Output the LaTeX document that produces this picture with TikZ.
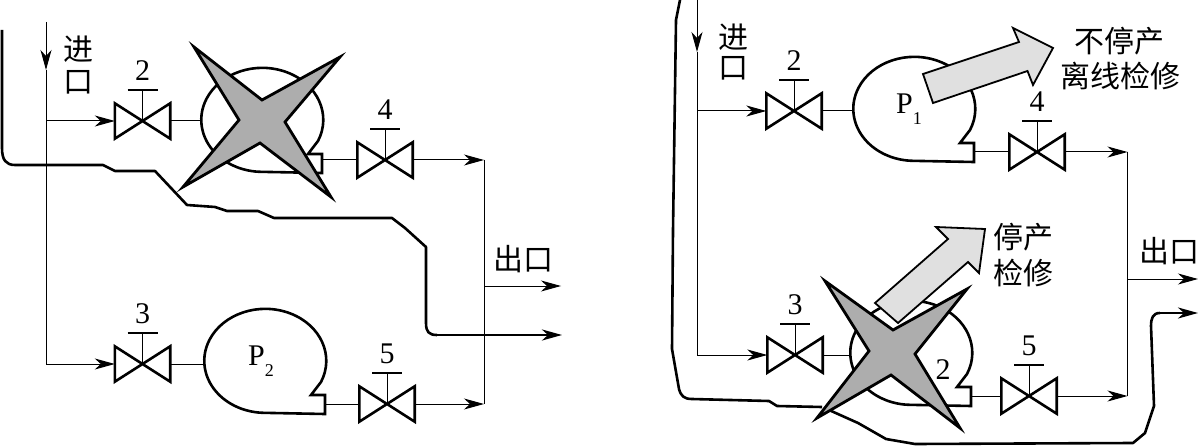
\documentclass[tikz,border=0pt]{standalone}
\usepackage{fontspec}
\setmainfont{Liberation Serif}
\newfontfamily\cjk{Noto Sans CJK SC}
\usetikzlibrary{arrows.meta}

\tikzset{
  pipe/.style={line width=1pt},
  flowtip/.style={-{Stealth[length=20pt,width=11pt,inset=6pt]}},
  bypass/.style={line width=2.6pt, line join=round},
  valve/.style={minimum width=55pt, minimum height=35pt, inner sep=0pt},
  valveline/.style={line width=2.6pt, line join=miter},
  pumpline/.style={line width=2.6pt, line join=miter},
  crossmark/.style={line width=2.8pt, fill=black!32, line join=miter},
  bigarrow/.style={line width=1.8pt, fill=black!12, line join=miter},
  numlabel/.style={font=\fontsize{30}{30}\selectfont, inner sep=0pt},
  cjklabel/.style={font=\cjk\fontsize{30}{30}\selectfont, inner sep=0pt}
}

\newcommand{\pumpname}[1]{P\raisebox{-0.35em}{\fontsize{18}{18}\selectfont #1}}

\begin{document}
\begin{tikzpicture}[x=1pt, y=1pt, yscale=-1]
  \useasboundingbox (0,0) rectangle (1198,446);

  % Valves of both figures
  \foreach \i/\lab/\px/\py in {A2/2/142.5/121, A3/3/142.5/364, A4/4/385/160, A5/5/387/404,
                               B2/2/794/111, B3/3/795/355, B4/4/1037/152, B5/5/1029/396} {
    \node[valve] (valve\i) at (\px,\py) {};
    \draw[valveline] (valve\i.south west) -- (valve\i.north east)
      -- (valve\i.south east) -- (valve\i.north west) -- cycle;
    \draw[pipe] (valve\i.center) -- ++(0,-31) coordinate (stem\i);
    \draw[line width=2.8pt] (stem\i) ++(-15,0) -- ++(30,0);
    \node[numlabel] (num\i) at (\px,\py-50) {\lab};
  }

  % Pump casings
  \foreach \i/\px/\py in {A1/264/120, A2/267/361, B1/916/109, B2/913/353} {
    \begin{scope}[shift={(\px,\py)}]
      \draw[pumpline] (58,53) -- (58,34) -- (44,34) -- (54,21)
        arc [start angle=24, end angle=-270, x radius=61, y radius=52] -- cycle;
      \coordinate (pump\i in) at (-63,0);
      \coordinate (pump\i out) at (58,40);
    \end{scope}
  }

  % Left figure
  \begin{scope}
    \coordinate (inletA) at (46,22);
    \coordinate (inletAmark) at (46,70);
    \coordinate (outletA) at (484,286);
    \coordinate (outletAend) at (561,286);

    \draw[pipe, flowtip] (inletA) -- (inletAmark);
    \draw[pipe] (inletAmark) -- (inletAmark |- valveA3);
    \draw[pipe, flowtip] (inletA |- valveA2) -- (valveA2.west);
    \draw[pipe, flowtip] (inletA |- valveA3) -- (valveA3.west);
    \draw[pipe] (valveA2.east) -- (valveA2.east -| pumpA1in);
    \draw[pipe] (valveA3.east) -- (valveA3.east -| pumpA2in);
    \draw[pipe] (valveA4.west) -- (valveA4.west -| pumpA1out);
    \draw[pipe] (valveA5.west) -- (valveA5.west -| pumpA2out);
    \draw[pipe, flowtip] (valveA4.east) -- (valveA4.east -| outletA);
    \draw[pipe, flowtip] (valveA5.east) -- (valveA5.east -| outletA);
    \draw[pipe] (valveA4.east -| outletA) -- (valveA5.east -| outletA);
    \draw[pipe, flowtip] (outletA) -- (outletAend);

    \draw[bypass] (2,30) -- (2,148) .. controls (2,160) and (6,165) .. (15,165)
      -- (103,165) -- (115,171) -- (155,171) -- (187,205) -- (215,207) -- (227,211)
      -- (258,211) -- (274,218) -- (392,218) -- (405,228) -- (426,247) -- (426,323)
      .. controls (426,332) and (429,335) .. (437,335);
    \draw[bypass, flowtip] (437,335) -- (562,335);

    \draw[crossmark] (194,47) -- (262,100) -- (340,57) -- (285,122)
      -- (331,197) -- (260,143) -- (183,187) -- (239,120) -- cycle;

    \node[numlabel] (nameA2) at (261,361) {\pumpname{2}};
    \node[cjklabel] (inA1) at (78,49) {进};
    \node[cjklabel] (inA2) at (78,82) {口};
    \node[cjklabel] (outA) at (523,259) {出口};
  \end{scope}

  % Right figure
  \begin{scope}
    \coordinate (inletB) at (697,0);
    \coordinate (inletBmark) at (697,52);
    \coordinate (outletB) at (1127.5,279);
    \coordinate (outletBend) at (1198,279);

    \draw[pipe, flowtip] (inletB) -- (inletBmark);
    \draw[pipe] (inletBmark) -- (inletBmark |- valveB3);
    \draw[pipe, flowtip] (inletB |- valveB2) -- (valveB2.west);
    \draw[pipe, flowtip] (inletB |- valveB3) -- (valveB3.west);
    \draw[pipe] (valveB2.east) -- (valveB2.east -| pumpB1in);
    \draw[pipe] (valveB3.east) -- (valveB3.east -| pumpB2in);
    \draw[pipe] (valveB4.west) -- (valveB4.west -| pumpB1out);
    \draw[pipe] (valveB5.west) -- (valveB5.west -| pumpB2out);
    \draw[pipe, flowtip] (valveB4.east) -- (valveB4.east -| outletB);
    \draw[pipe, flowtip] (valveB5.east) -- (valveB5.east -| outletB);
    \draw[pipe] (valveB4.east -| outletB) -- (valveB5.east -| outletB);
    \draw[pipe, flowtip] (outletB) -- (outletBend);

    \draw[bypass] (680,0) -- (676,20) -- (673,230) -- (672,349) -- (679,389)
      .. controls (681,396) and (684,399) .. (692,399)
      -- (769,401) -- (777,406) -- (822,407);
    \draw[bypass] (829,410) -- (858,423) -- (886,439) -- (915,444) -- (1133,443)
      -- (1145,433) -- (1154,406) -- (1151,326)
      .. controls (1151,318) and (1153,313) .. (1160,313);
    \draw[bypass, flowtip] (1160,313) -- (1198,313);

    \draw[bigarrow] (923,74) -- (1019,42) -- (1013,28) -- (1053,48)
      -- (1033,85) -- (1027.5,71) -- (933,103) -- cycle;
    \draw[bigarrow] (875,303) -- (948,239) -- (936,227) -- (985,229)
      -- (979,273) -- (968,262) -- (898,323) -- cycle;

    \draw[crossmark] (825,281) -- (893,330) -- (967,289) -- (915,354)
      -- (960,428) -- (891,375) -- (817,418) -- (869,351) -- cycle;

    \node[numlabel] (nameB1) at (909,109) {\pumpname{1}};
    \node[numlabel] (nameB2) at (943,370) {2};
    \node[cjklabel] (inB1) at (733,37) {进};
    \node[cjklabel] (inB2) at (733,68) {口};
    \node[cjklabel] (outB) at (1169,251) {出口};
    \node[cjklabel] (keepA) at (1119,41) {不停产};
    \node[cjklabel] (keepB) at (1120,76) {离线检修};
    \node[cjklabel] (stopA) at (1023,237) {停产};
    \node[cjklabel] (stopB) at (1023,273) {检修};
  \end{scope}
\end{tikzpicture}
\end{document}
